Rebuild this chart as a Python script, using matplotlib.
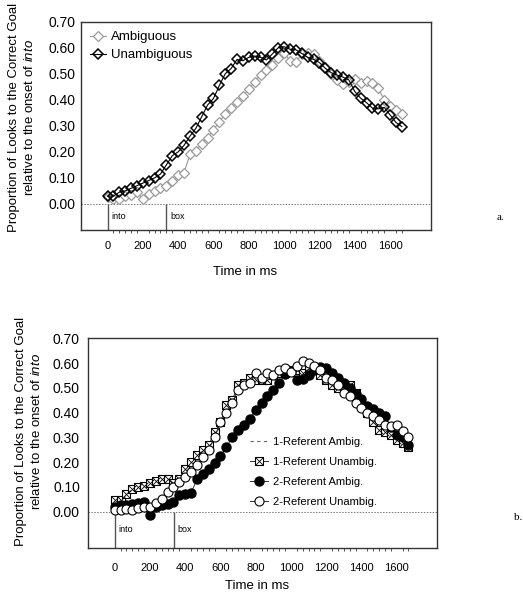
import numpy as np
import matplotlib.pyplot as plt
from matplotlib.lines import Line2D
from matplotlib.legend_handler import HandlerTuple
from matplotlib.ticker import FormatStrFormatter

plt.rcParams['font.family'] = 'Liberation Sans'
plt.rcParams['mathtext.fontset'] = 'custom'
plt.rcParams['mathtext.rm'] = 'Liberation Sans'
plt.rcParams['mathtext.it'] = 'Liberation Sans:italic'

#%% data: proportion of looks, one bin every 33 ms from the onset of "into"
time_ms = np.arange(51) * 1000 / 30
box_onset = 334

# panel a
ambig = [0.025, 0.02, 0.02, 0.03, 0.035, 0.045, 0.02, 0.04, 0.05, 0.06,
         0.07, 0.09, 0.11, 0.12, 0.19, 0.205, 0.23, 0.255, 0.285, 0.315,
         0.345, 0.37, 0.39, 0.415, 0.44, 0.47, 0.495, 0.515, 0.535, 0.56,
         0.58, 0.55, 0.545, 0.575, 0.58, 0.575, 0.55, 0.525, 0.50, 0.475,
         0.46, 0.47, 0.478, 0.463, 0.472, 0.463, 0.444, 0.40, 0.376, 0.361,
         0.346]
unambig = [0.03, 0.03, 0.045, 0.05, 0.06, 0.07, 0.08, 0.09, 0.10, 0.115,
           0.15, 0.185, 0.20, 0.225, 0.26, 0.29, 0.335, 0.38, 0.405, 0.455,
           0.50, 0.52, 0.555, 0.55, 0.563, 0.568, 0.563, 0.553, 0.576, 0.60,
           0.604, 0.594, 0.592, 0.578, 0.563, 0.555, 0.543, 0.521, 0.504, 0.495,
           0.487, 0.476, 0.432, 0.406, 0.389, 0.368, 0.365, 0.371, 0.342, 0.313,
           0.297]

# panel b
ref1_ambig = [0.02, 0.02, 0.03, 0.03, 0.035, 0.04, 0.03, 0.03, 0.03, 0.035,
              0.05, 0.07, 0.08, 0.10, 0.14, 0.155, 0.17, 0.20, 0.23, 0.27,
              0.31, 0.34, 0.36, 0.38, 0.41, 0.44, 0.46, 0.49, 0.52, 0.55,
              0.56, 0.54, 0.54, 0.55, 0.57, 0.58, 0.57, 0.56, 0.54, 0.52,
              0.50, 0.48, 0.46, 0.43, 0.42, 0.41, 0.40, 0.37, 0.33, 0.31,
              0.28]
ref1_unambig = [0.045, 0.045, 0.07, 0.09, 0.10, 0.105, 0.115, 0.125, 0.13, 0.13,
                0.115, 0.13, 0.17, 0.20, 0.23, 0.25, 0.27, 0.32, 0.36, 0.43,
                0.45, 0.51, 0.52, 0.54, 0.53, 0.53, 0.53, 0.55, 0.56, 0.56,
                0.57, 0.57, 0.56, 0.58, 0.58, 0.55, 0.53, 0.51, 0.50, 0.50,
                0.51, 0.48, 0.44, 0.40, 0.36, 0.33, 0.32, 0.31, 0.29, 0.275,
                0.26]
ref2_ambig = [0.02, 0.025, 0.025, 0.03, 0.035, 0.04, -0.015, 0.02, 0.025, 0.03,
              0.04, 0.065, 0.07, 0.075, 0.13, 0.15, 0.17, 0.195, 0.225, 0.26,
              0.30, 0.33, 0.35, 0.375, 0.41, 0.44, 0.465, 0.49, 0.52, 0.555,
              0.568, 0.53, 0.535, 0.55, 0.57, 0.582, 0.58, 0.56, 0.54, 0.52,
              0.50, 0.475, 0.453, 0.426, 0.415, 0.40, 0.386, 0.34, 0.31, 0.30,
              0.27]
ref2_unambig = [0.005, 0.005, 0.01, 0.005, 0.015, 0.02, 0.02, 0.035, 0.05, 0.08,
                0.10, 0.12, 0.14, 0.16, 0.19, 0.22, 0.25, 0.30, 0.36, 0.40,
                0.44, 0.49, 0.51, 0.52, 0.56, 0.54, 0.56, 0.55, 0.57, 0.58,
                0.565, 0.59, 0.61, 0.60, 0.59, 0.57, 0.54, 0.53, 0.51, 0.48,
                0.465, 0.44, 0.42, 0.40, 0.385, 0.37, 0.35, 0.345, 0.35, 0.325,
                0.30]

ylabel = 'Proportion of Looks to the Correct Goal\nrelative to the onset of $\\mathit{into}$'


def style_panel(ax, ymin, xpad, ypad):
    ax.set_xlim(-150, 1830)
    ax.set_ylim(ymin, 0.70)
    ax.set_yticks(np.arange(0, 0.71, 0.1))
    ax.yaxis.set_major_formatter(FormatStrFormatter('%.2f'))
    ax.set_xticks(range(0, 1601, 200))
    ax.set_xticks(time_ms, minor=True)
    ax.tick_params(axis='y', which='major', length=0, labelsize=10, pad=ypad)
    ax.tick_params(axis='x', which='major', length=0, labelsize=8, pad=xpad)
    ax.tick_params(axis='x', which='minor', length=2, width=0.7,
                   color='#555555', direction='out')
    for s in ax.spines.values():
        s.set_color('#333333')
        s.set_linewidth(1.0)
    ax.axhline(0, color='#777777', lw=0.7, ls=(0, (1.5, 1.5)), zorder=1)
    ax.vlines([0, box_onset], ymin, 0, color='#555555', lw=1.0, zorder=1)
    ymid = ymin / 2
    ax.text(20, ymid, 'into', fontsize=6.5, va='center', ha='left')
    ax.text(box_onset + 20, ymid, 'box', fontsize=6.5, va='center', ha='left')
    ax.set_xlabel('Time in ms', fontsize=9.5)
    ax.set_ylabel(ylabel, fontsize=9.5, linespacing=1.25)


fig = plt.figure(figsize=(5.23, 6.0), dpi=100)

#%% panel a
ax1 = fig.add_axes([0.1549, 0.6167, 0.6686, 0.3472])
ax1.plot(time_ms, ambig, color='#9a9a9a', lw=0.8, marker='D', ms=5.5,
         mfc='white', mec='#9a9a9a', mew=0.9, label='Ambiguous', zorder=3)
ax1.plot(time_ms, unambig, color='black', lw=0.8, marker='D', ms=5.5,
         mfc='none', mec='black', mew=1.1, label='Unambiguous', zorder=4)
style_panel(ax1, -0.10, 8, 4)
ax1.xaxis.set_label_coords(0.47, -0.175)
ax1.yaxis.set_label_coords(-0.13, 0.54)
ax1.legend(loc='upper left', bbox_to_anchor=(0.026, 0.955), frameon=False,
           fontsize=9.5, handlelength=1.2, handletextpad=0.35,
           labelspacing=0.45, borderaxespad=0, borderpad=0)
fig.text(497 / 523, 1 - 218 / 600, 'a.', family='Liberation Serif',
         fontsize=8, va='center', ha='left')

#%% panel b
ax2 = fig.add_axes([0.1688, 0.0872, 0.6673, 0.349])
l1, = ax2.plot(time_ms, ref1_ambig, color='#dddddd', lw=0.7, ls=(0, (3, 3)),
               zorder=2)
l2, = ax2.plot(time_ms, ref1_unambig, color='#333333', lw=0.7, marker='s',
               ms=5.8, mfc='white', mec='black', mew=0.8, zorder=3)
l2x, = ax2.plot(time_ms, ref1_unambig, ls='none', marker='x', ms=5.8,
                mec='black', mew=0.6, zorder=3)
l3, = ax2.plot(time_ms, ref2_ambig, color='#333333', lw=0.7, marker='o',
               ms=6.5, mfc='black', mec='black', zorder=4)
l4, = ax2.plot(time_ms, ref2_unambig, color='#333333', lw=0.7, marker='o',
               ms=6.5, mfc='white', mec='black', mew=0.8, zorder=5)
style_panel(ax2, -0.146, 11, 6)
ax2.xaxis.set_label_coords(0.485, -0.155)
ax2.yaxis.set_label_coords(-0.13, 0.557)

leg_dash = Line2D([], [], color='#666666', lw=0.8, ls=(0, (3, 3)))
ax2.legend([leg_dash, (l2, l2x), l3, l4],
           ['1-Referent Ambig.', '1-Referent Unambig.',
            '2-Referent Ambig.', '2-Referent Unambig.'],
           handler_map={tuple: HandlerTuple(ndivide=1)},
           loc='upper left', bbox_to_anchor=(0.463, 0.528), frameon=False,
           fontsize=8, handlelength=1.6, handletextpad=0.5,
           labelspacing=0.9, borderaxespad=0, borderpad=0)
fig.text(514 / 523, 1 - 518 / 600, 'b.', family='Liberation Serif',
         fontsize=8, va='center', ha='left')

fig.savefig('out.png', dpi=100)
